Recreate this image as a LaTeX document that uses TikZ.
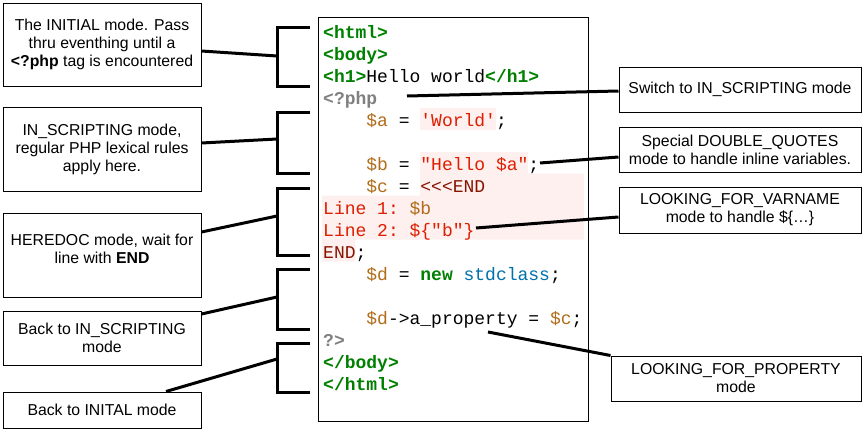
\documentclass[tikz,border=0pt]{standalone}
\usepackage{fontspec}
\setmainfont{Liberation Sans}
\newfontfamily\codefont{Liberation Mono}

\definecolor{tagc}{RGB}{0,128,0}
\definecolor{phpc}{RGB}{128,128,128}
\definecolor{varc}{RGB}{176,108,24}
\definecolor{strc}{RGB}{221,30,0}
\definecolor{endc}{RGB}{136,20,0}
\definecolor{clsc}{RGB}{0,112,170}
\definecolor{pinkc}{RGB}{255,240,240}

\newcommand{\cTag}[1]{\textcolor{tagc}{\textbf{#1}}}
\newcommand{\cPhp}[1]{\textcolor{phpc}{\textbf{#1}}}
\newcommand{\cVar}[1]{\textcolor{varc}{#1}}
\newcommand{\cStr}[1]{\textcolor{strc}{#1}}
\newcommand{\cEnd}[1]{\textcolor{endc}{#1}}
\newcommand{\cCls}[1]{\textcolor{clsc}{#1}}
\newcommand{\codeind}{\hspace*{43.2pt}}

\begin{document}
\begin{tikzpicture}[x=1pt,y=-1pt]
\tikzset{box/.style = {draw, line width=1pt, align=center, inner sep=0pt, minimum width=198pt, font=\fontsize{15.8}{18}\selectfont},
         note/.style = {box, minimum width=242pt, minimum height=45pt},
         code/.style = {anchor=base west, inner sep=0pt, font=\codefont\fontsize{18}{22}\selectfont\frenchspacing},
         link/.style = {line width=3pt},
         brk/.style = {line width=3pt}}
\useasboundingbox (0,0) rectangle (863,431);

% pink backgrounds of the strings and the heredoc
\fill[pinkc] (420.2,107.5) rectangle (495.8,129.5);
\fill[pinkc] (420.2,151.5) rectangle (528.2,173.5);
\fill[pinkc] (420.2,173.5) -- (584,173.5) -- (584,239.5) -- (355.4,239.5) -- (355.4,261.5) -- (322,261.5) -- (322,195.5) -- (420.2,195.5) -- cycle;
\draw[line width=1pt] (318,17) rectangle (588,421);

% code lines
\node[code] (l0) at (323,38.5) {\cTag{<html>}};
\node[code] (l1) at (323,60.5) {\cTag{<body>}};
\node[code] (l2) at (323,82.5) {\cTag{<h1>}Hello world\cTag{</h1>}};
\node[code] (l3) at (323,104.5) {\cPhp{<?php}};
\node[code] (l4) at (323,126.5) {\codeind\cVar{\$a} = \cStr{'World'};};
\node[code] (l6) at (323,170.5) {\codeind\cVar{\$b} = \cStr{"Hello \$a"};};
\node[code] (l7) at (323,192.5) {\codeind\cVar{\$c} = \cEnd{<<<END}};
\node[code] (l8) at (323,214.5) {\cStr{Line 1: }\cVar{\$b}};
\node[code] (l9) at (323,236.5) {\cStr{Line 2: \$\{"b"\}}};
\node[code] (l10) at (323,258.5) {\cEnd{END};};
\node[code] (l11) at (323,280.5) {\codeind\cVar{\$d} = \cTag{new} \cCls{stdclass};};
\node[code] (l13) at (323,324.5) {\codeind\cVar{\$d}->a\_property = \cVar{\$c};};
\node[code] (l14) at (323,346.5) {\cPhp{?>}};
\node[code] (l15) at (323,368.5) {\cTag{</body>}};
\node[code] (l16) at (323,390.5) {\cTag{</html>}};

% brackets
\foreach \t/\b/\m/\n in {27/86/56/b1, 112/173/139/b2, 188/255/216/b3, 269/329/297/b4, 343/392/359/b5}{
  \draw[brk] (310,\t) -| (277,\b) -- (310,\b);
  \coordinate (\n) at (277,\m);
}

% left notes
\node[box, minimum height=83pt] (initial) at (102,44.5) {The INITIAL mode. Pass\\thru eventhing until a\\\textbf{<?php} tag is encountered};
\node[box, minimum height=84pt] (scripting) at (102,149) {IN\_SCRIPTING mode,\\regular PHP lexical rules\\apply here.};
\node[box, minimum height=84pt, text depth=13pt] (heredoc) at (102,255) {HEREDOC mode, wait for\\line with \textbf{END}};
\node[box, minimum height=54pt] (backscript) at (102,338) {Back to IN\_SCRIPTING\\mode};
\node[box, minimum height=36pt] (backinit) at (102,410) {Back to INITAL mode};

% right notes
\node[note] (switch) at (740,89.5) {Switch to IN\_SCRIPTING mode};
\node[note] (dquotes) at (740,149.5) {Special DOUBLE\_QUOTES\\mode to handle inline variables.};
\node[note, minimum height=46pt] (varname) at (740,210) {LOOKING\_FOR\_VARNAME\\mode to handle \$\{…\}};
\node[note, minimum width=250pt] (property) at (736,378.5) {LOOKING\_FOR\_PROPERTY\\mode};

\coordinate (php) at (407,96);
\coordinate (dq) at (540,163);
\coordinate (vn) at (476,228);
\coordinate (prop) at (488,332);

\draw[link] ([yshift=-6.5pt]initial.east) -- (b1);
\draw[link] ([yshift=6pt]scripting.east) -- (b2);
\draw[link] ([yshift=23pt]heredoc.east) -- (b3);
\draw[link] ([yshift=24pt]backscript.east) -- (b4);
\draw[link] ([xshift=64pt]backinit.north) -- (b5);
\draw[link] (php) -- ([yshift=-1.5pt]switch.west);
\draw[link] (dq) -- ([yshift=-7.5pt]dquotes.west);
\draw[link] (vn) -- ([yshift=-7pt]varname.west);
\draw[link] (prop) -- (property.north west);
\end{tikzpicture}
\end{document}
